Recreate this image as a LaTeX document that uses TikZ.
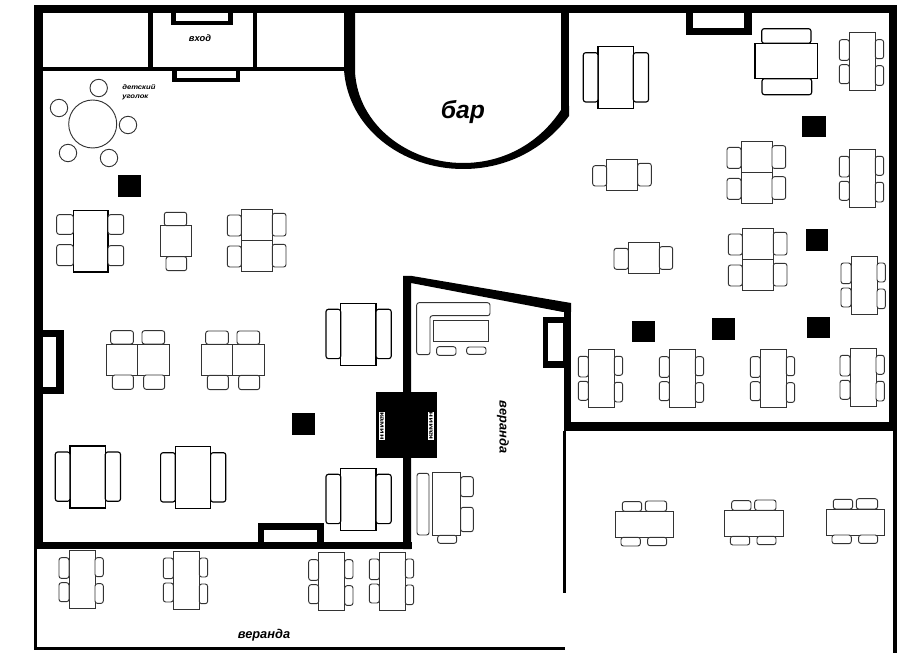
\documentclass[tikz,border=0pt]{standalone}
\usepackage{fontspec}
\setmainfont{Liberation Sans}

\tikzset{
  wall/.style={fill=black},
  gap/.style={fill=white},
  tbl/.style={draw=black!80,fill=white,line width=0.7pt},
  chr/.style={draw=black!80,fill=white,line width=0.7pt,rounded corners=1.8pt},
  tblbig/.style={draw=black,fill=white,line width=0.85pt},
  chrbig/.style={draw=black,fill=white,line width=0.85pt,rounded corners=1.8pt},
  roomlabel/.style={font=\bfseries\itshape,inner sep=0pt},
  firelabel/.style={font=\bfseries\fontsize{4.6}{5}\selectfont,fill=white,inner sep=0pt,text=black,minimum width=19.5pt,minimum height=4.6pt}
}

% narrow table, two chairs on each long side
\newcommand{\longset}[2]{\begin{scope}[shift={(#1,#2)}]
\draw [tbl] (0,0) rectangle (26,58);
\draw [chr] (-10,7) rectangle (0,27.7);
\draw [chr] (-10,32) rectangle (0,51);
\draw [chr] (26,7) rectangle (34.3,26);
\draw [chr] (26,33) rectangle (34.3,52.7);
\end{scope}}
% large table, one bench on each long side
\newcommand{\bigset}[2]{\begin{scope}[shift={(#1,#2)}]
\draw [tblbig] (0,0) rectangle (35.3,62);
\draw [chrbig] (-14.7,6) rectangle (0,55.3);
\draw [chrbig] (35.3,6) rectangle (50.5,55.3);
\end{scope}}
% two square tables, one above the other
\newcommand{\doubleset}[2]{\begin{scope}[shift={(#1,#2)}]
\draw [tbl] (0,0) rectangle (31,30.7);
\draw [tbl] (0,30.7) rectangle (31,61.7);
\draw [chr] (-14,5.7) rectangle (0,26.7);
\draw [chr] (-14,36.7) rectangle (0,57.7);
\draw [chr] (31,4) rectangle (44.7,26.7);
\draw [chr] (31,35) rectangle (44.7,57.7);
\end{scope}}
% two square tables, side by side
\newcommand{\sideset}[2]{\begin{scope}[shift={(#1,#2)}]
\draw [tbl] (0,0) rectangle (31,31);
\draw [tbl] (31,0) rectangle (62.3,31);
\draw [chr] (4,-13.3) rectangle (26.7,0);
\draw [chr] (35.3,-13.3) rectangle (58,0);
\draw [chr] (5.7,31) rectangle (26.7,45.3);
\draw [chr] (37,31) rectangle (58,45.3);
\end{scope}}
% wide table, two chairs above and below
\newcommand{\wideset}[2]{\begin{scope}[shift={(#1,#2)}]
\draw [tbl] (0,0) rectangle (58.4,26);
\draw [chr] (7,-9.7) rectangle (26.3,0);
\draw [chr] (30,-10.3) rectangle (51.3,0);
\draw [chr] (5.7,26) rectangle (25,34.7);
\draw [chr] (32.3,26) rectangle (51.3,34.4);
\end{scope}}

\begin{document}
\begin{tikzpicture}[x=0.75pt,y=0.75pt,yscale=-1,xscale=1]
\useasboundingbox (0,0) rectangle (900,666);

%Outer walls
\fill [wall] (34,5) rectangle (897,13);
\fill [wall] (34,5) rectangle (43,549);
\fill [wall] (34,549) rectangle (37,650);
\fill [wall] (34,647) rectangle (565,650);
\fill [wall] (889,5) rectangle (897,431);
\fill [wall] (893,431) rectangle (897,653);
\fill [wall] (36,542) rectangle (412,549);
\fill [wall] (561,106) rectangle (569,13);
\fill [wall] (564,304) rectangle (571,431);
\fill [wall] (564,422) rectangle (897,431);
\fill [wall] (563,431) rectangle (566,593);

%Entrance partitions
\fill [wall] (43,67) rectangle (345,71);
\fill [wall] (148,13) rectangle (153,67);
\fill [wall] (253,13) rectangle (257,67);

%Bar curve
\fill [wall] (344,13) -- (344,70) .. controls (348,128) and (402,169) .. (463,169) .. controls (508,169) and (545,148) .. (569,116) -- (569,106) -- (561,106) -- (561,110) .. controls (540,142) and (505,163) .. (463,163) .. controls (408,163) and (358,125) .. (355,72) -- (355,13) -- cycle;

%Veranda walls
\fill [wall] (403,276) -- (412,276) -- (571,303) -- (571,312) -- (563,312) -- (411,283) -- (411,549) -- (403,549) -- cycle;

%Doors
\fill [wall] (171,13) rectangle (233,25);
\fill [gap] (176,13) rectangle (228,21);
\fill [wall] (172,71) rectangle (240,82);
\fill [gap] (177,71) rectangle (236,78);
\fill [wall] (686,13) rectangle (752,35);
\fill [gap] (693,13) rectangle (744,28);
\fill [wall] (43,330) rectangle (64,394);
\fill [gap] (43,337) rectangle (56,387);
\fill [wall] (258,523) rectangle (324,542);
\fill [gap] (264,530) rectangle (317,542);
\fill [wall] (543,317) rectangle (564,368);
\fill [gap] (548,323) rectangle (563,361);

%Fireplace
\fill [wall] (376,392) rectangle (437,458);

%Columns
\fill [wall] (118,175) rectangle (141,197);
\fill [wall] (802,116) rectangle (826,137);
\fill [wall] (806,229) rectangle (828,251);
\fill [wall] (632,321) rectangle (655,342);
\fill [wall] (712,318) rectangle (735,340);
\fill [wall] (807,317) rectangle (830,338);
\fill [wall] (292,413) rectangle (315,435);

%Children's corner
\draw [tbl] (92.7,124) circle [radius=24];
\draw [tbl] (98.7,88) circle [radius=8.7];
\draw [tbl] (59,108) circle [radius=8.7];
\draw [tbl] (128,125) circle [radius=8.7];
\draw [tbl] (68,153) circle [radius=8.7];
\draw [tbl] (109,158) circle [radius=8.7];

%Left hall
\draw [tblbig] (73.3,210.7) rectangle (108,272);
\draw [chr] (56.7,214.7) rectangle (73.3,234.3);
\draw [chr] (56.7,244.7) rectangle (73.3,265.7);
\draw [chr] (108,214.7) rectangle (123.7,234.3);
\draw [chr] (108,245.7) rectangle (123.7,265.7);
\draw [tbl] (160.7,225.7) rectangle (191.3,256.7);
\draw [chr] (164.3,212.3) rectangle (186.7,225.7);
\draw [chr] (166,256.7) rectangle (186.7,270.7);
\doubleset{241.3}{209.3}
\sideset{106.7}{344}
\sideset{201.7}{344.3}
\bigset{340.7}{303.3}
\bigset{70}{446}
\bigset{175.3}{446.7}
\bigset{340.7}{468.3}

%Right hall
\bigset{598}{46.7}
\draw [tblbig] (755,43.3) rectangle (817.3,78.7);
\draw [chrbig] (761.7,28.7) rectangle (811,43.3);
\draw [chrbig] (762,78.7) rectangle (811.7,94.7);
\longset{849.3}{32.7}
\longset{849.3}{149.3}
\longset{851}{256}
\draw [tbl] (606.7,159.3) rectangle (637.7,190.7);
\draw [chr] (592.7,165.7) rectangle (606.7,186);
\draw [chr] (637.7,163.3) rectangle (651.3,186);
\doubleset{741}{141.7}
\draw [tbl] (628.3,242.7) rectangle (659.3,273.3);
\draw [chr] (614,248.3) rectangle (628.3,269.3);
\draw [chr] (659.3,246.7) rectangle (672.7,269.3);
\doubleset{742.3}{228.3}
\longset{588.3}{349.3}
\longset{669.3}{349.7}
\longset{760.3}{349.7}
\longset{850}{348.3}

%Veranda furniture
\draw [chr] (416.7,302.7) -- (490,302.7) -- (490,315.7) -- (430,315.7) -- (430,354.7) -- (416.7,354.7) -- cycle;
\draw [tbl] (433.3,320.7) rectangle (488.3,341.7);
\draw [chr] (436.7,346.7) rectangle (456,355.3);
\draw [chr] (466.7,347) rectangle (486,354.3);
\draw [tbl] (432.3,472.3) rectangle (460.7,535);
\draw [chr] (417,473.3) rectangle (429,535);
\draw [chr] (460.7,476.7) rectangle (473.3,496.7);
\draw [chr] (460.7,507.3) rectangle (473.3,531.7);
\draw [chr] (437.7,535.3) rectangle (456.7,543.3);
\longset{69}{550.7}
\longset{173.3}{551}
\longset{318.7}{552.7}
\longset{379.3}{552}
\wideset{615.3}{511.3}
\wideset{724.7}{510.3}
\wideset{826.3}{509}

% Text Node
\node [roomlabel,font=\bfseries\itshape\fontsize{18.5}{20}\selectfont] (bar) at (463,112) {бар};
% Text Node
\node [roomlabel,font=\itshape\bfseries\fontsize{7}{8}\selectfont] (entry) at (200,38) {вход};
% Text Node
\node [roomlabel,font=\bfseries\itshape\fontsize{9.6}{11}\selectfont] (verandabottom) at (264,635) {веранда};
% Text Node
\node [roomlabel,font=\bfseries\itshape\fontsize{9.6}{11}\selectfont,rotate=-90] (verandaside) at (503,427) {веранда};
% Text Node
\node [roomlabel,font=\bfseries\itshape\fontsize{5}{6.3}\selectfont,align=left,anchor=north west] (kids) at (122,84.5) {\scalebox{1.15}[1]{детский}\\\scalebox{1.15}[1]{уголок}};
% Text Node
\node [firelabel,rotate=-90] (fireleft) at (382,426) {\scalebox{1.5}[1]{камин}};
% Text Node
\node [firelabel,rotate=90] (fireright) at (431,426) {\scalebox{1.5}[1]{камин}};

\end{tikzpicture}
\end{document}
